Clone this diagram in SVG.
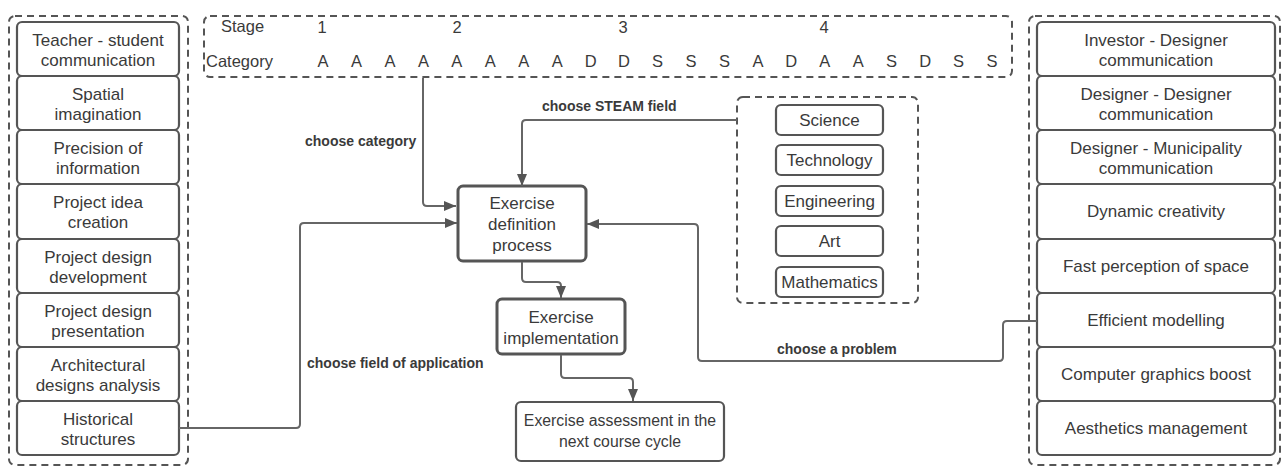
<svg xmlns="http://www.w3.org/2000/svg" width="1282" height="467" viewBox="0 0 1282 467">
<style>
.dash{fill:none;stroke:#555;stroke-width:2;stroke-dasharray:7 5}
.box{fill:#fff;stroke:#555;stroke-width:2.2}
.main{fill:#fff;stroke:#555;stroke-width:3}
.t{font-family:"Liberation Sans",Arial,sans-serif;font-size:17px;fill:#3a3a3a;text-anchor:middle}
.h{font-family:"Liberation Sans",Arial,sans-serif;font-size:16.5px;fill:#3a3a3a}
.lbl{font-family:"Liberation Sans",Arial,sans-serif;font-size:14px;font-weight:bold;fill:#3a3a3a}
.c{fill:none;stroke:#666;stroke-width:2;stroke-linejoin:round}
</style>
<defs>
<marker id="ah" viewBox="0 0 12 10" refX="12" refY="5" markerWidth="12" markerHeight="10" markerUnits="userSpaceOnUse" orient="auto">
<path d="M0,0 L12,5 L0,10 Z" fill="#555"/>
</marker>
</defs>

<g id="stage-table">
<rect class="dash" x="204" y="16" width="808" height="61" rx="6"/>
<text class="h" x="221" y="32">Stage</text>
<text class="h" x="206" y="67">Category</text>
<g class="h" text-anchor="middle">
<text x="322" y="33" text-anchor="middle">1</text>
<text x="457" y="33" text-anchor="middle">2</text>
<text x="623" y="33" text-anchor="middle">3</text>
<text x="824" y="33" text-anchor="middle">4</text>
<text x="323" y="67" text-anchor="middle">A</text>
<text x="356.5" y="67" text-anchor="middle">A</text>
<text x="390" y="67" text-anchor="middle">A</text>
<text x="423.4" y="67" text-anchor="middle">A</text>
<text x="456.8" y="67" text-anchor="middle">A</text>
<text x="490.3" y="67" text-anchor="middle">A</text>
<text x="523.7" y="67" text-anchor="middle">A</text>
<text x="557.2" y="67" text-anchor="middle">A</text>
<text x="590.6" y="67" text-anchor="middle">D</text>
<text x="624" y="67" text-anchor="middle">D</text>
<text x="657.5" y="67" text-anchor="middle">S</text>
<text x="691" y="67" text-anchor="middle">S</text>
<text x="724.4" y="67" text-anchor="middle">S</text>
<text x="757.9" y="67" text-anchor="middle">A</text>
<text x="791.3" y="67" text-anchor="middle">D</text>
<text x="824.7" y="67" text-anchor="middle">A</text>
<text x="858.2" y="67" text-anchor="middle">A</text>
<text x="891.6" y="67" text-anchor="middle">S</text>
<text x="925.1" y="67" text-anchor="middle">D</text>
<text x="958.5" y="67" text-anchor="middle">S</text>
<text x="992" y="67" text-anchor="middle">S</text>
</g>
</g>

<g id="left-group">
<rect class="dash" x="9" y="16" width="179" height="449" rx="6"/>
<g id="l1"><rect class="box" x="17" y="22" width="162" height="54" rx="5"/><text class="t" x="98" y="46">Teacher - student</text><text class="t" x="98" y="66">communication</text></g>
<g id="l2"><rect class="box" x="17" y="76" width="162" height="54" rx="5"/><text class="t" x="98" y="100">Spatial</text><text class="t" x="98" y="120">imagination</text></g>
<g id="l3"><rect class="box" x="17" y="130" width="162" height="54" rx="5"/><text class="t" x="98" y="154">Precision of</text><text class="t" x="98" y="174">information</text></g>
<g id="l4"><rect class="box" x="17" y="184" width="162" height="55" rx="5"/><text class="t" x="98" y="208">Project idea</text><text class="t" x="98" y="228">creation</text></g>
<g id="l5"><rect class="box" x="17" y="239" width="162" height="54" rx="5"/><text class="t" x="98" y="263">Project design</text><text class="t" x="98" y="283">development</text></g>
<g id="l6"><rect class="box" x="17" y="293" width="162" height="54" rx="5"/><text class="t" x="98" y="317">Project design</text><text class="t" x="98" y="337">presentation</text></g>
<g id="l7"><rect class="box" x="17" y="347" width="162" height="54" rx="5"/><text class="t" x="98" y="371">Architectural</text><text class="t" x="98" y="391">designs analysis</text></g>
<g id="l8"><rect class="box" x="17" y="401" width="162" height="54" rx="5"/><text class="t" x="98" y="425">Historical</text><text class="t" x="98" y="445">structures</text></g>
</g>

<g id="right-group">
<rect class="dash" x="1029" y="16" width="251" height="449" rx="6"/>
<g id="r1"><rect class="box" x="1037" y="22" width="238" height="54" rx="5"/><text class="t" x="1156" y="46">Investor - Designer</text><text class="t" x="1156" y="66">communication</text></g>
<g id="r2"><rect class="box" x="1037" y="76" width="238" height="54" rx="5"/><text class="t" x="1156" y="100">Designer - Designer</text><text class="t" x="1156" y="120">communication</text></g>
<g id="r3"><rect class="box" x="1037" y="130" width="238" height="54" rx="5"/><text class="t" x="1156" y="154">Designer - Municipality</text><text class="t" x="1156" y="174">communication</text></g>
<g id="r4"><rect class="box" x="1037" y="184" width="238" height="55" rx="5"/><text class="t" x="1156" y="217">Dynamic creativity</text></g>
<g id="r5"><rect class="box" x="1037" y="239" width="238" height="54" rx="5"/><text class="t" x="1156" y="272">Fast perception of space</text></g>
<g id="r6"><rect class="box" x="1037" y="293" width="238" height="54" rx="5"/><text class="t" x="1156" y="326">Efficient modelling</text></g>
<g id="r7"><rect class="box" x="1037" y="347" width="238" height="54" rx="5"/><text class="t" x="1156" y="380">Computer graphics boost</text></g>
<g id="r8"><rect class="box" x="1037" y="401" width="238" height="54" rx="5"/><text class="t" x="1156" y="434">Aesthetics management</text></g>
</g>

<g id="steam-group">
<rect class="dash" x="737" y="97" width="181" height="206" rx="6"/>
<g id="science"><rect class="box" x="776" y="105" width="107" height="30" rx="5"/><text class="t" x="829.5" y="126">Science</text></g>
<g id="technology"><rect class="box" x="776" y="145" width="107" height="30" rx="5"/><text class="t" x="829.5" y="166">Technology</text></g>
<g id="engineering"><rect class="box" x="776" y="186" width="107" height="30" rx="5"/><text class="t" x="829.5" y="207">Engineering</text></g>
<g id="art"><rect class="box" x="776" y="226" width="107" height="30" rx="5"/><text class="t" x="829.5" y="247">Art</text></g>
<g id="mathematics"><rect class="box" x="776" y="267" width="107" height="30" rx="5"/><text class="t" x="829.5" y="288">Mathematics</text></g>
</g>

<g id="definition"><rect class="main" x="458" y="186" width="128" height="75" rx="5"/><text class="t" x="522" y="209">Exercise</text><text class="t" x="522" y="230">definition</text><text class="t" x="522" y="251">process</text></g>
<g id="implementation"><rect class="main" x="497" y="299" width="128" height="55" rx="5"/><text class="t" x="561" y="323">Exercise</text><text class="t" x="561" y="344">implementation</text></g>
<g id="assessment"><rect class="box" x="516" y="402" width="208" height="59" rx="5"/><text class="t" x="620" y="426" style="font-size:15.8px">Exercise assessment in the</text><text class="t" x="620" y="447" style="font-size:15.8px">next course cycle</text></g>

<g id="connectors">
<path class="c" d="M423,78 V202 Q423,206 427,206 H456" marker-end="url(#ah)"/>
<path class="c" d="M737,120 H526 Q522,120 522,124 V186" marker-end="url(#ah)"/>
<path class="c" d="M179,428 H296 Q300,428 300,424 V227 Q300,223 304,223 H457" marker-end="url(#ah)"/>
<path class="c" d="M1037,321 H1007 Q1003,321 1003,325 V357 Q1003,361 999,361 H702 Q698,361 698,357 V228 Q698,224 694,224 H587" marker-end="url(#ah)"/>
<path class="c" d="M522,262 V278 Q522,282 526,282 H557 Q561,282 561,286 V298" marker-end="url(#ah)"/>
<path class="c" d="M561,355 V374 Q561,378 565,378 H629 Q633,378 633,382 V401" marker-end="url(#ah)"/>
<text class="lbl" x="305" y="146">choose category</text>
<text class="lbl" x="542" y="111">choose STEAM field</text>
<text class="lbl" x="307" y="368">choose field of application</text>
<text class="lbl" x="777" y="354">choose a problem</text>
</g>
</svg>
